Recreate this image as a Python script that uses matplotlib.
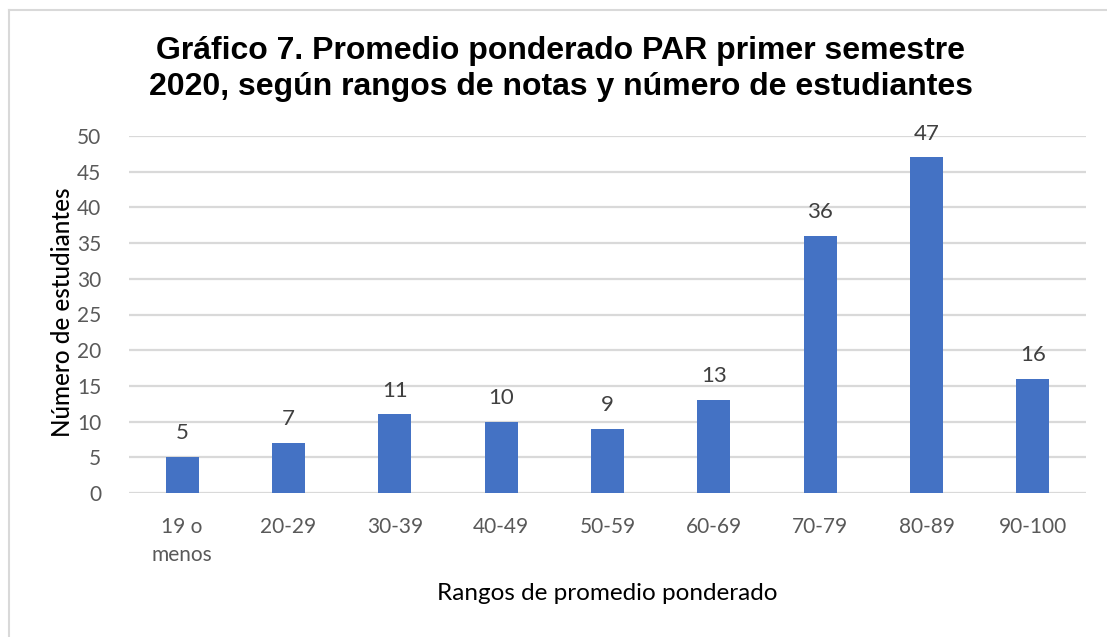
import matplotlib
matplotlib.use("Agg")
import matplotlib.pyplot as plt
from matplotlib.lines import Line2D

categories = ["19 o\nmenos", "20-29", "30-39", "40-49", "50-59", "60-69", "70-79", "80-89", "90-100"]
values = [5, 7, 11, 10, 9, 13, 36, 47, 16]
yticks = [0, 5, 10, 15, 20, 25, 30, 35, 40, 45, 50]

title = "Gráfico 7. Promedio ponderado PAR primer semestre\n2020, según rangos de notas y número de estudiantes"
xlabel = "Rangos de promedio ponderado"
ylabel = "Número de estudiantes"

W, H = 1107, 637
fig = plt.figure(figsize=(W / 100, H / 100), dpi=100)
fig.patch.set_facecolor("white")

ax = fig.add_axes([129 / W, 1 - 493 / H, (1086 - 129) / W, (493 - 136) / H])

x = list(range(len(categories)))
bars = ax.bar(x, values, width=0.31, color="#4472C4", zorder=3)

ax.set_xlim(-0.5, len(categories) - 0.5)
ax.set_ylim(0, 50)
ax.set_yticks(yticks)
ax.set_xticks(x)
ax.set_xticklabels(categories, fontfamily="Lato", fontsize=15, color="#595959", linespacing=1.5)
ax.set_yticklabels([str(t) for t in yticks], fontfamily="Lato", fontsize=15, color="#595959")
ax.tick_params(axis="both", length=0)
ax.tick_params(axis="x", pad=17)
ax.tick_params(axis="y", pad=20)

ax.grid(axis="y", color="#D9D9D9", linewidth=1.6, zorder=0)
for s in ax.spines.values():
    s.set_visible(False)

for xi, v in zip(x, values):
    ax.annotate(str(v), (xi, v), xytext=(0, 10), textcoords="offset points",
                ha="center", va="bottom", fontfamily="Lato", fontsize=16, color="#404040")

fig.text(561 / W, 1 - 69 / H, title, ha="center", va="center", fontfamily="Liberation Sans",
         fontweight="bold", fontsize=23, linespacing=1.27, color="black")
fig.text(62 / W, 1 - 312 / H, ylabel, ha="center", va="center", rotation=90,
         fontfamily="Lato", fontweight="medium", fontsize=17.5, color="black")
fig.text(607 / W, 1 - 593 / H, xlabel, ha="center", va="center",
         fontfamily="Lato", fontsize=17.5, color="black")

# outer frame (top and left edges visible)
fig.add_artist(Line2D([8.5 / W, 8.5 / W], [0, 1 - 9.5 / H], transform=fig.transFigure, color="#D9D9D9", linewidth=1.5))
fig.add_artist(Line2D([8.5 / W, 1], [1 - 9.5 / H, 1 - 9.5 / H], transform=fig.transFigure, color="#D9D9D9", linewidth=1.5))

fig.savefig("out.png", dpi=100, facecolor="white")
